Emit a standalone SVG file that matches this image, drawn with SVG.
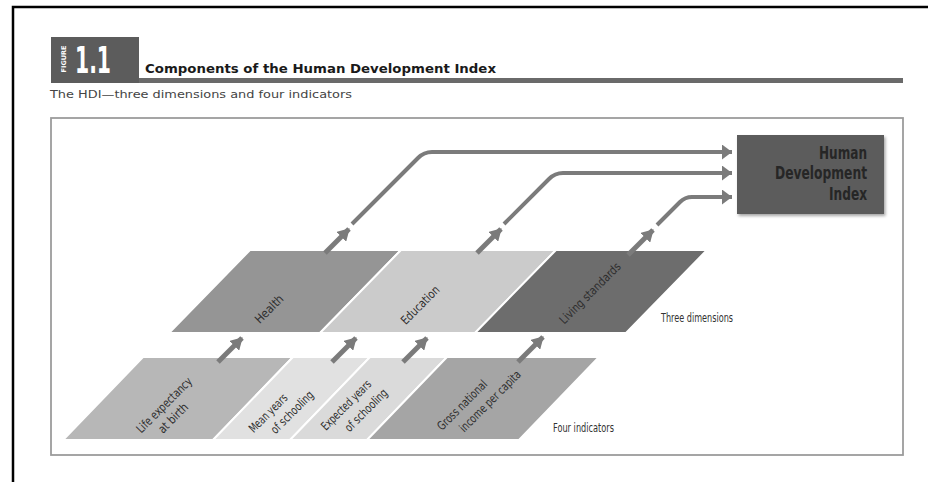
<svg xmlns="http://www.w3.org/2000/svg" width="928" height="482" viewBox="0 0 928 482">
<style>
.lbl{font-family:"DejaVu Sans Condensed","DejaVu Sans",sans-serif;font-stretch:condensed;font-size:12px;fill:#2e2e2e;text-anchor:middle}
.side{font-family:"DejaVu Sans Condensed","DejaVu Sans",sans-serif;font-stretch:condensed;font-size:11.5px;fill:#333}
.hdi{font-family:"DejaVu Sans Condensed","DejaVu Sans",sans-serif;font-stretch:condensed;font-weight:bold;font-size:17px;fill:#262626;text-anchor:end}
.par{stroke:#fff;stroke-width:2;stroke-linejoin:miter}
.short{stroke:#7b7b7b;stroke-width:5;fill:none;marker-end:url(#headS)}
.long{stroke:#7b7b7b;stroke-width:4;fill:none;marker-end:url(#headL)}
</style>
<defs>
<marker id="headS" markerUnits="userSpaceOnUse" viewBox="0 0 12 14" refX="11" refY="7" markerWidth="12" markerHeight="14" orient="auto">
<path d="M0,0 L12,7 L0,14 Z" fill="#7b7b7b"/>
</marker>
<marker id="headL" markerUnits="userSpaceOnUse" viewBox="0 0 10 15" refX="10" refY="7.5" markerWidth="10" markerHeight="15" orient="auto">
<path d="M0,0 L10,7.5 L0,15 Z" fill="#7b7b7b"/>
</marker>
<filter id="shadow" x="-10%" y="-10%" width="125%" height="130%">
<feDropShadow dx="1.5" dy="2" stdDeviation="1.8" flood-color="#000" flood-opacity="0.35"/>
</filter>
</defs>
<rect width="928" height="482" fill="#fff"/>
<g id="frame">
<path d="M13,482 V7 H928" fill="none" stroke="#000" stroke-width="2.5"/>
</g>
<g id="header">
<rect x="51" y="37" width="88" height="46" fill="#5c5c5c"/>
<text transform="translate(66,59) rotate(-90)" font-family="DejaVu Sans, sans-serif" font-weight="bold" font-size="6.5" fill="#fff" text-anchor="middle" textLength="27" lengthAdjust="spacingAndGlyphs">FIGURE</text>
<text x="75" y="73" font-family="DejaVu Sans Condensed, DejaVu Sans, sans-serif" font-stretch="condensed" font-weight="bold" font-size="38" fill="#fff" textLength="36" lengthAdjust="spacingAndGlyphs">1.1</text>
<rect x="139" y="78" width="764" height="5" fill="#6a6a6a"/>
<text x="145" y="73" font-family="DejaVu Sans, sans-serif" font-weight="bold" font-size="13" fill="#1a1a1a" textLength="351" lengthAdjust="spacingAndGlyphs">Components of the Human Development Index</text>
<text x="50" y="98" font-family="DejaVu Sans, sans-serif" font-size="10.5" fill="#444" textLength="302" lengthAdjust="spacingAndGlyphs">The HDI—three dimensions and four indicators</text>
</g>
<rect id="panel" x="51" y="118" width="852" height="337" fill="#fff" stroke="#9c9c9c" stroke-width="1.8"/>
<g id="hdi">
<rect x="737" y="135" width="147" height="79" fill="#5b5b5b" filter="url(#shadow)"/>
<text class="hdi" x="867" y="159" textLength="48" lengthAdjust="spacingAndGlyphs">Human</text>
<text class="hdi" x="867" y="179" textLength="92" lengthAdjust="spacingAndGlyphs">Development</text>
<text class="hdi" x="867" y="200" textLength="38" lengthAdjust="spacingAndGlyphs">Index</text>
</g>
<g id="health">
<polygon class="par" points="250,250 401,250 320,333 169,333" fill="#959595"/>
<text class="lbl" transform="translate(272,312) rotate(-45)" textLength="35" lengthAdjust="spacingAndGlyphs">Health</text>
</g>
<g id="education">
<polygon class="par" points="401,250 556,250 475,333 320,333" fill="#cbcbcb"/>
<text class="lbl" transform="translate(423,308) rotate(-45)" textLength="49" lengthAdjust="spacingAndGlyphs">Education</text>
</g>
<g id="living">
<polygon class="par" points="556,250 707,250 626,333 475,333" fill="#6d6d6d"/>
<text class="lbl" transform="translate(593,296) rotate(-45)" textLength="81" lengthAdjust="spacingAndGlyphs">Living standards</text>
</g>
<g id="life">
<polygon class="par" points="143,357 293,357 213,440 63,440" fill="#b7b7b7"/>
<text class="lbl" transform="translate(167,408) rotate(-45)" textLength="73" lengthAdjust="spacingAndGlyphs">Life expectancy</text>
<text class="lbl" transform="translate(176,421) rotate(-45)" textLength="37" lengthAdjust="spacingAndGlyphs">at birth</text>
</g>
<g id="mean">
<polygon class="par" points="293,357 370,357 290,440 213,440" fill="#e1e1e1"/>
<text class="lbl" transform="translate(271,416) rotate(-45)" textLength="49" lengthAdjust="spacingAndGlyphs">Mean years</text>
<text class="lbl" transform="translate(295,415) rotate(-45)" textLength="55" lengthAdjust="spacingAndGlyphs">of schooling</text>
</g>
<g id="expected">
<polygon class="par" points="370,357 447,357 367,440 290,440" fill="#dadada"/>
<text class="lbl" transform="translate(349,408) rotate(-45)" textLength="65" lengthAdjust="spacingAndGlyphs">Expected years</text>
<text class="lbl" transform="translate(369,413) rotate(-45)" textLength="55" lengthAdjust="spacingAndGlyphs">of schooling</text>
</g>
<g id="gross">
<polygon class="par" points="447,357 599,357 519,440 367,440" fill="#a5a5a5"/>
<text class="lbl" transform="translate(465,408) rotate(-45)" textLength="65" lengthAdjust="spacingAndGlyphs">Gross national</text>
<text class="lbl" transform="translate(493,404) rotate(-45)" textLength="81" lengthAdjust="spacingAndGlyphs">income per capita</text>
</g>
<g id="row-labels">
<text class="side" x="661" y="322" textLength="72" lengthAdjust="spacingAndGlyphs">Three dimensions</text>
<text class="side" x="553" y="432" textLength="61" lengthAdjust="spacingAndGlyphs">Four indicators</text>
</g>
<g id="connectors">
<path class="short" d="M218,362 L242,338"/>
<path class="short" d="M332,362 L356,338"/>
<path class="short" d="M403,362 L427,338"/>
<path class="short" d="M518,362 L543,337"/>
<path class="short" d="M325,253 L349,229"/>
<path class="short" d="M477,253 L501,229"/>
<path class="short" d="M628,255 L653,230"/>
<path class="long" d="M352,224 L418,158 Q424,152 432,152 H732"/>
<path class="long" d="M504,224 L549,179 Q555,173 563,173 H732"/>
<path class="long" d="M657,225 L680,202 Q685,197 692,197 H732"/>
</g>
</svg>
